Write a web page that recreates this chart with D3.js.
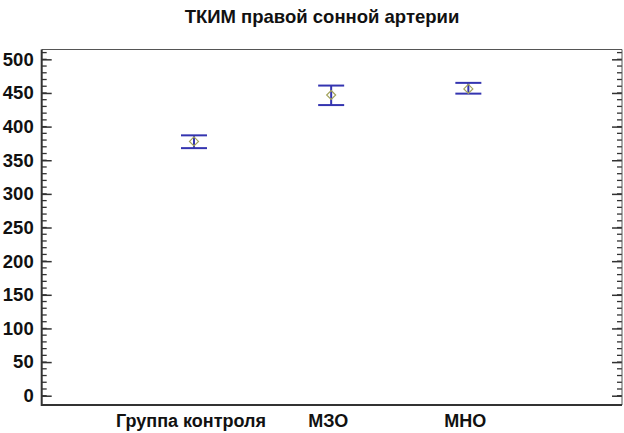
<!DOCTYPE html>
<html>
<head>
<meta charset="utf-8">
<script src="https://cdn.jsdelivr.net/npm/d3@7"></script>
<style>
  body { margin: 0; background: #fff; }
  text { font-family: "Liberation Sans", Arial, sans-serif; font-weight: bold; }
</style>
</head>
<body>
<div id="chart"></div>
<script>
// data
let title = "ТКИМ правой сонной артерии",
  categories = ["Группа контроля", "МЗО", "МНО"],
  means = [378, 447, 456],
  upper = [387, 461, 465],
  lower = [368, 432, 449],
  yTicks = [0, 50, 100, 150, 200, 250, 300, 350, 400, 450, 500];

let draw = () => {
  var width = 624,
    height = 433,
    box = { left: 41.7, right: 622, top: 49.5, bottom: 405 };

  var svg = d3
    .select("#chart")
    .append("svg")
    .attr("width", width)
    .attr("height", height);

  svg.append("rect").attr("width", width).attr("height", height).attr("fill", "#fff");

  var Yaxis = d3.scaleLinear().domain([-13.8, 514.6]).range([box.bottom, box.top]),
    Xaxis = d3.scaleLinear().domain([-0.11, 4.12]).range([box.left, box.right]),
    minor = d3.range(0, 511, 10);

  // title
  svg
    .append("text")
    .attr("x", 322)
    .attr("y", 23)
    .attr("text-anchor", "middle")
    .style("font-size", "18.5px")
    .attr("fill", "#111")
    .text(title);

  // minor ticks, both sides
  var mt = svg.append("g").attr("stroke", "#333").attr("stroke-width", 1.3);
  mt.selectAll(".ml")
    .data(minor)
    .enter()
    .append("line")
    .attr("x1", box.left)
    .attr("x2", box.left + 5)
    .attr("y1", (d) => Yaxis(d))
    .attr("y2", (d) => Yaxis(d));
  mt.selectAll(".mr")
    .data(minor)
    .enter()
    .append("line")
    .attr("x1", box.right)
    .attr("x2", box.right - 5)
    .attr("y1", (d) => Yaxis(d))
    .attr("y2", (d) => Yaxis(d));

  // left axis, ticks drawn inward
  var left = svg
    .append("g")
    .attr("transform", `translate(${box.left}, 0)`)
    .call(d3.axisLeft(Yaxis).tickValues(yTicks).tickSize(-10).tickPadding(8));
  left.select(".domain").remove();
  left.selectAll("line").attr("stroke", "#333").attr("stroke-width", 1.5);
  left.selectAll("text").style("font-size", "18.5px").attr("fill", "#111");

  var right = svg
    .append("g")
    .attr("transform", `translate(${box.right}, 0)`)
    .call(d3.axisRight(Yaxis).tickValues(yTicks).tickSize(-10).tickFormat(""));
  right.select(".domain").remove();
  right.selectAll("line").attr("stroke", "#333").attr("stroke-width", 1.5);

  // frame
  svg
    .append("path")
    .attr("d", `M${box.left} ${box.top} H${box.right} V${box.bottom}`)
    .attr("fill", "none")
    .attr("stroke", "#555")
    .attr("stroke-width", 1);
  svg
    .append("path")
    .attr("d", `M${box.left} ${box.top} V${box.bottom} H${box.right}`)
    .attr("fill", "none")
    .attr("stroke", "#333")
    .attr("stroke-width", 2);

  // category labels
  svg
    .selectAll(".cat")
    .data(categories)
    .enter()
    .append("text")
    .attr("x", (d, i) => Xaxis(i + 1) - 3)
    .attr("y", 427)
    .attr("text-anchor", "middle")
    .style("font-size", "18px")
    .attr("fill", "#111")
    .text((d) => d);

  // intervals
  var rows = categories.map((c, i) => ({ i: i + 1, m: means[i], hi: upper[i], lo: lower[i] }));
  var cap = 13;
  var g = svg.append("g").attr("stroke", "#3434b0").attr("stroke-width", 2);
  g.selectAll(".v")
    .data(rows)
    .enter()
    .append("line")
    .attr("x1", (d) => Xaxis(d.i))
    .attr("x2", (d) => Xaxis(d.i))
    .attr("y1", (d) => Yaxis(d.hi))
    .attr("y2", (d) => Yaxis(d.lo));
  g.selectAll(".hi")
    .data(rows)
    .enter()
    .append("line")
    .attr("x1", (d) => Xaxis(d.i) - cap)
    .attr("x2", (d) => Xaxis(d.i) + cap)
    .attr("y1", (d) => Yaxis(d.hi))
    .attr("y2", (d) => Yaxis(d.hi));
  g.selectAll(".lo")
    .data(rows)
    .enter()
    .append("line")
    .attr("x1", (d) => Xaxis(d.i) - cap)
    .attr("x2", (d) => Xaxis(d.i) + cap)
    .attr("y1", (d) => Yaxis(d.lo))
    .attr("y2", (d) => Yaxis(d.lo));

  // mean diamonds
  svg
    .selectAll(".dm")
    .data(rows)
    .enter()
    .append("path")
    .attr("transform", (d) => `translate(${Xaxis(d.i)}, ${Yaxis(d.m)})`)
    .attr("d", "M0 -4.5 L4.5 0 L0 4.5 L-4.5 0 Z")
    .attr("fill", "none")
    .attr("stroke", "#a3a35c")
    .attr("stroke-width", 1.2);
};

draw();
</script>
</body>
</html>
